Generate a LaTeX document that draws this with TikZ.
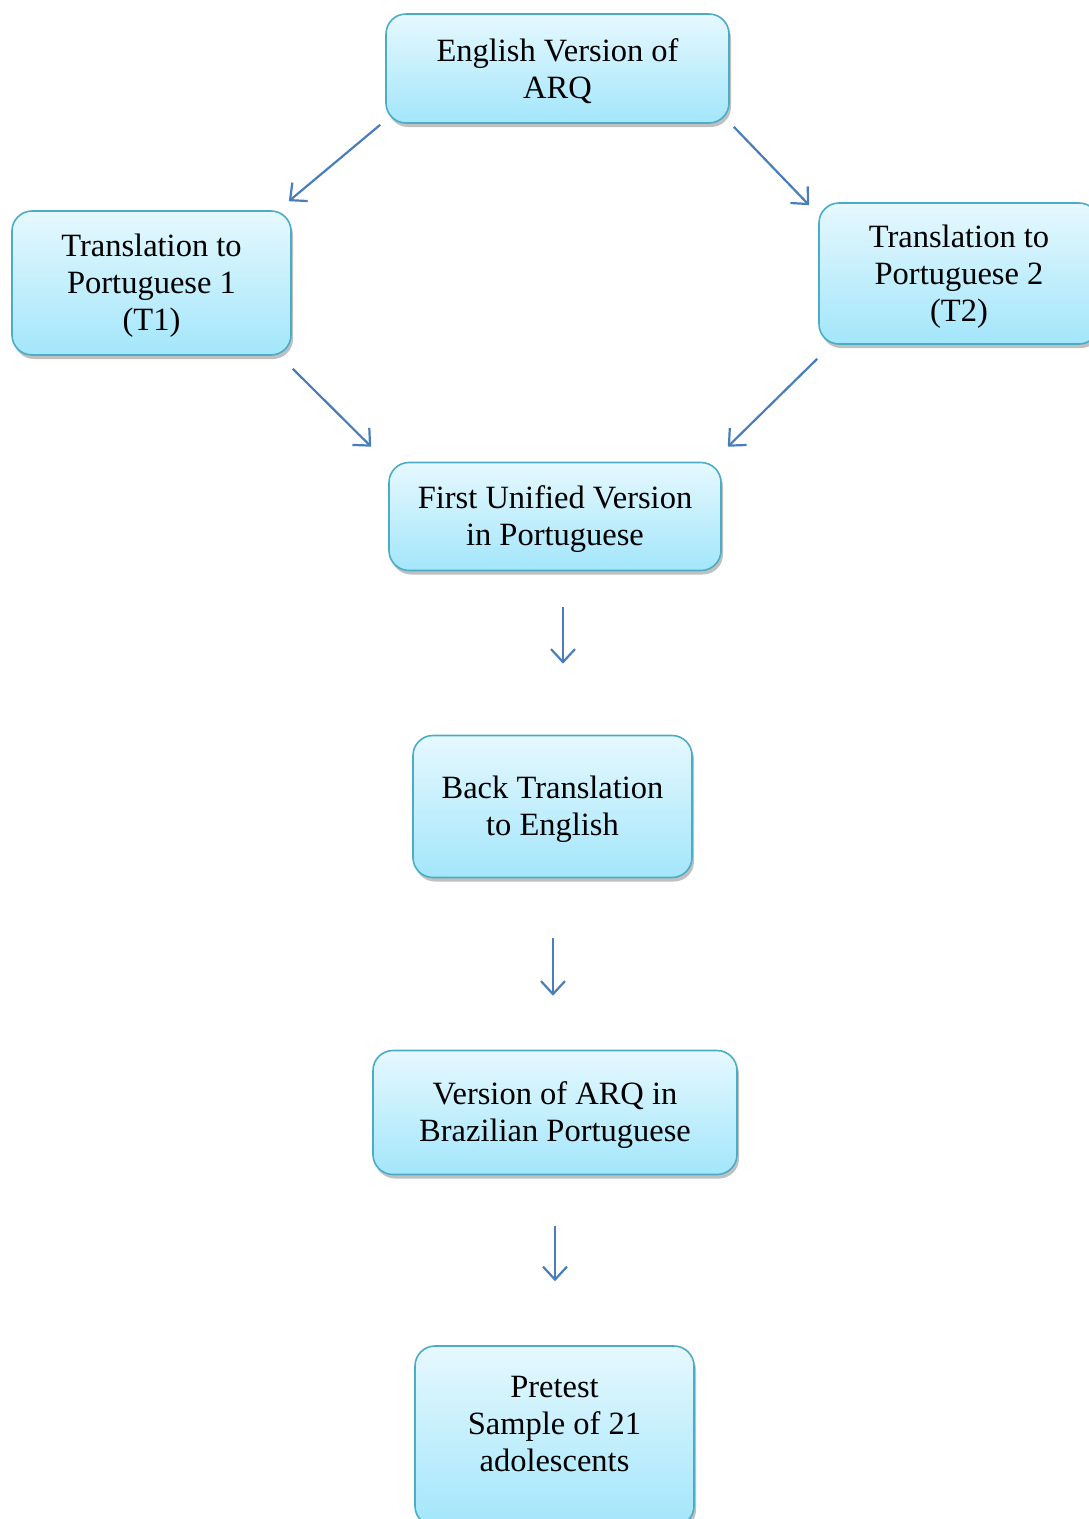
\documentclass[tikz,border=0pt]{standalone}
\usepackage{fontspec}
\setmainfont{Liberation Serif}
\usetikzlibrary{arrows.meta,shadows}
\definecolor{boxedge}{HTML}{4BACC6}
\definecolor{boxtop}{HTML}{E6F8FE}
\definecolor{boxbot}{HTML}{A3E6FB}
\definecolor{arrcol}{HTML}{4A7EBB}
\newcommand\mytopstrut{\rule{0pt}{28.5pt}}
\tikzset{
  flowbox/.style={draw=boxedge, line width=1.6pt, rounded corners=20pt,
    top color=boxtop, bottom color=boxbot,
    drop shadow={shadow xshift=2pt, shadow yshift=-4pt, fill=black!55, opacity=0.45},
    align=center, inner sep=0pt},
  txt/.style={align=center, font=\fontsize{32.5}{37}\selectfont},
  arr/.style={draw=arrcol, line width=2.2pt, -{Straight Barb[length=13pt,width=24pt,line width=2.2pt]}}
}
\begin{document}
\begin{tikzpicture}[x=1pt,y=1pt]
\useasboundingbox (0,0) rectangle (1089,-1519);
\clip (0,0) rectangle (1089,-1519);
\node[flowbox, txt, minimum width=343pt, minimum height=109pt] (top) at (557.5,-68.5) {\mytopstrut English Version of\\ARQ};
\node[flowbox, txt, minimum width=279pt, minimum height=144pt] (t1) at (151.5,-283) {\mytopstrut Translation to\\Portuguese 1\\(T1)};
\node[flowbox, txt, minimum width=280pt, minimum height=141pt] (t2) at (959,-273.5) {\mytopstrut Translation to\\Portuguese 2\\(T2)};
\node[flowbox, txt, minimum width=332pt, minimum height=108pt] (fuv) at (555,-516.5) {\mytopstrut First Unified Version\\in Portuguese};
\node[flowbox, txt, minimum width=279pt, minimum height=142pt] (back) at (552.5,-806.5) {\mytopstrut Back Translation\\to English};
\node[flowbox, txt, minimum width=364pt, minimum height=124pt] (ver) at (555,-1112.5) {\mytopstrut Version of ARQ in\\Brazilian Portuguese};
\node[flowbox, minimum width=279pt, minimum height=180pt] (pre) at (554.5,-1436) {};
\node[txt] (pretxt) at (554.5,-1420) {\mytopstrut Pretest\\Sample of 21\\adolescents};
\draw[arr] ([xshift=-5pt,yshift=-1pt]top.south west) -- ([xshift=-3pt,yshift=9pt]t1.north east);
\draw[arr] ([xshift=4pt,yshift=-3pt]top.south east) -- ([xshift=-9pt,yshift=-3pt]t2.north west);
\draw[arr] ([xshift=1pt,yshift=-13pt]t1.south east) -- ([xshift=-17pt,yshift=15pt]fuv.north west);
\draw[arr] ([xshift=-1pt,yshift=-14pt]t2.south west) -- ([xshift=6pt,yshift=15pt]fuv.north east);
\draw[arr] ([xshift=8pt,yshift=-36pt]fuv.south) -- ([xshift=10.5pt,yshift=71pt]back.north);
\draw[arr] ([xshift=0.5pt,yshift=-60pt]back.south) -- ([xshift=-2pt,yshift=54pt]ver.north);
\draw[arr] ([yshift=-51pt]ver.south) -- ([xshift=0.5pt,yshift=64pt]pre.north);
\end{tikzpicture}
\end{document}
